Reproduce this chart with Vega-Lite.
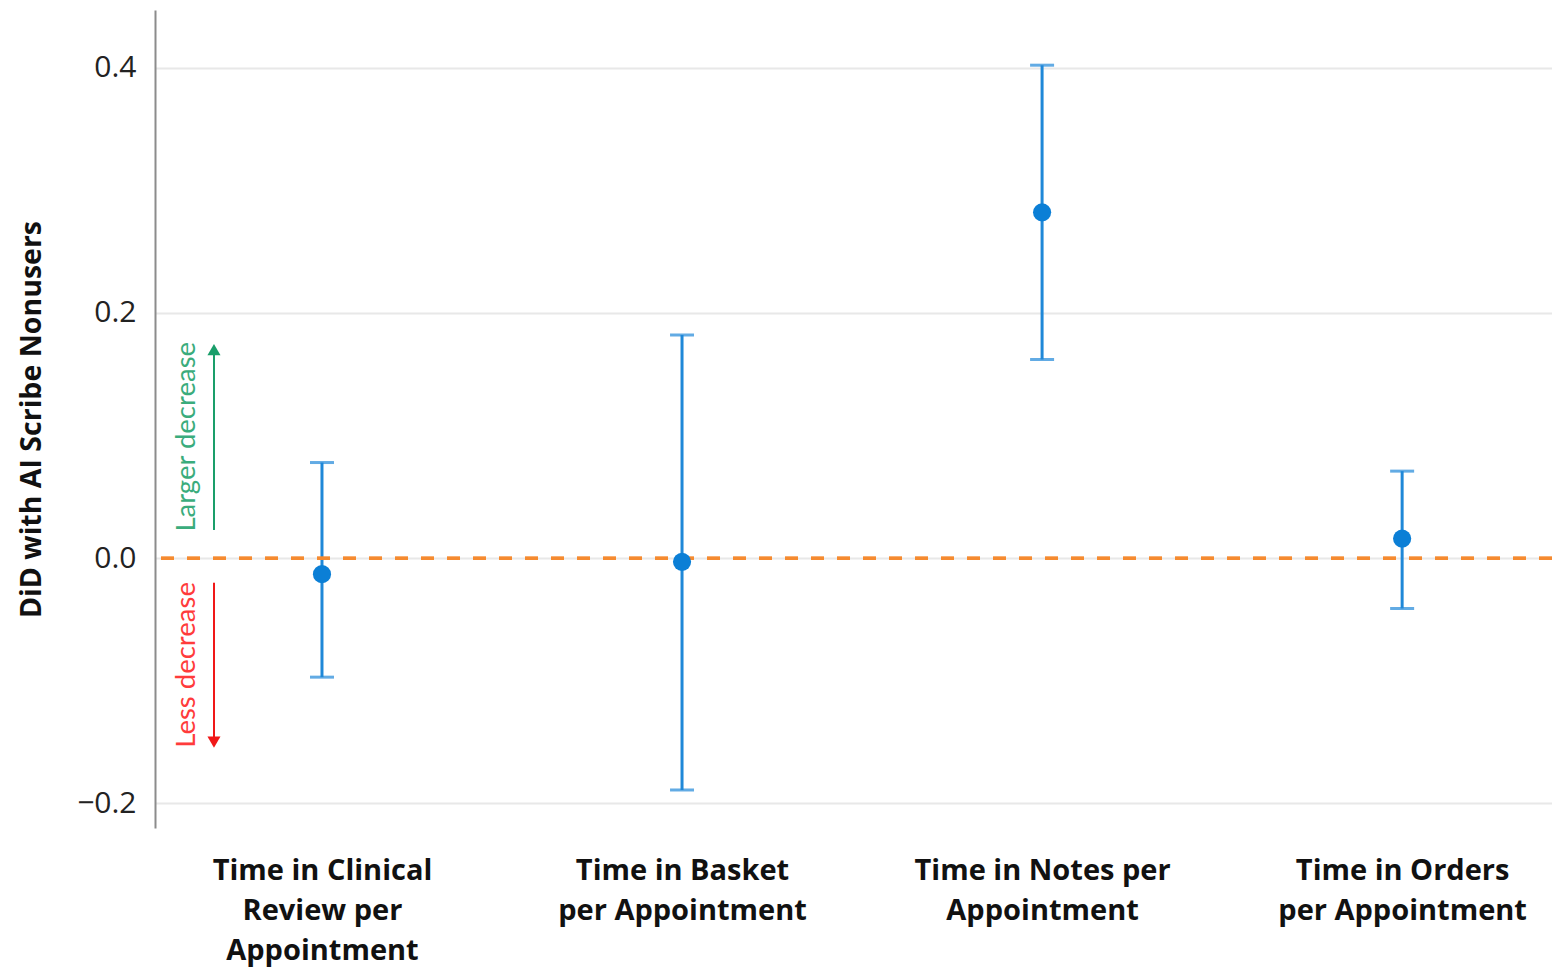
{
  "$schema": "https://vega.github.io/schema/vega-lite/v6.json",
  "width": 1397,
  "height": 818,
  "autosize": "none",
  "padding": {"left": 155, "top": 10, "right": 0, "bottom": 139},
  "background": "white",
  "config": {"view": {"stroke": null}, "font": "Open Sans"},
  "datasets": {
    "est": [
      {"metric": "Time in Clinical Review per Appointment", "estimate": -0.013, "lower": -0.097, "upper": 0.078},
      {"metric": "Time in Basket per Appointment", "estimate": -0.003, "lower": -0.189, "upper": 0.182},
      {"metric": "Time in Notes per Appointment", "estimate": 0.282, "lower": 0.162, "upper": 0.402},
      {"metric": "Time in Orders per Appointment", "estimate": 0.016, "lower": -0.041, "upper": 0.071}
    ],
    "ann": [
      {"label": "Larger decrease", "mid": 0.099, "start": 0.023, "end": 0.17},
      {"label": "Less decrease", "mid": -0.087, "start": -0.02, "end": -0.15}
    ]
  },
  "encoding": {
    "x": {
      "field": "metric",
      "type": "nominal",
      "sort": null,
      "scale": {"type": "point", "padding": 0.44, "align": 0.527},
      "axis": {
        "title": null,
        "domain": false,
        "ticks": false,
        "grid": false,
        "labelAngle": 0,
        "labelPadding": 28,
        "labelLimit": 0,
        "labelFont": "Open Sans",
        "labelFontSize": 29,
        "labelFontWeight": "bold",
        "labelColor": "#111111",
        "labelLineHeight": 40,
        "labelBaseline": "top",
        "labelExpr": "datum.value == 'Time in Clinical Review per Appointment' ? ['Time in Clinical', 'Review per', 'Appointment'] : datum.value == 'Time in Basket per Appointment' ? ['Time in Basket', 'per Appointment'] : datum.value == 'Time in Notes per Appointment' ? ['Time in Notes per', 'Appointment'] : ['Time in Orders', 'per Appointment']"
      }
    }
  },
  "layer": [
    {
      "data": {"name": "est"},
      "mark": {"type": "rule", "color": "#1f88d8", "strokeWidth": 3},
      "encoding": {
        "y": {
          "field": "lower",
          "type": "quantitative",
          "title": "DiD with AI Scribe Nonusers",
          "scale": {"domain": [-0.22, 0.447], "nice": false, "zero": false},
          "axis": {
            "values": [-0.2, 0, 0.2, 0.4],
            "format": ".1f",
            "ticks": false,
            "grid": true,
            "gridColor": "#e8e8e8",
            "gridWidth": 2,
            "domainColor": "#8c8c8c",
            "domainWidth": 2,
            "labelFont": "Open Sans",
            "labelFontSize": 30,
            "labelColor": "#222222",
            "labelPadding": 19,
            "titleFont": "Open Sans",
            "titleFontSize": 28.5,
            "titleFontWeight": "bold",
            "titleColor": "#111111",
            "titlePadding": 30
          }
        },
        "y2": {"field": "upper"}
      }
    },
    {
      "data": {"name": "est"},
      "mark": {"type": "rule", "color": "#f58a30", "strokeWidth": 3, "strokeDash": [13, 13]},
      "encoding": {"x": null, "y": {"datum": 0, "type": "quantitative", "title": "DiD with AI Scribe Nonusers"}}
    },
    {
      "data": {"name": "est"},
      "mark": {"type": "tick", "color": "#1f88d8", "thickness": 3, "size": 24, "orient": "horizontal"},
      "encoding": {"y": {"field": "upper", "type": "quantitative", "title": "DiD with AI Scribe Nonusers"}}
    },
    {
      "data": {"name": "est"},
      "mark": {"type": "tick", "color": "#1f88d8", "thickness": 3, "size": 24, "orient": "horizontal"},
      "encoding": {"y": {"field": "lower", "type": "quantitative", "title": "DiD with AI Scribe Nonusers"}}
    },
    {
      "data": {"name": "est"},
      "mark": {"type": "circle", "color": "#0b7fd6", "opacity": 1, "size": 330},
      "encoding": {"y": {"field": "estimate", "type": "quantitative", "title": "DiD with AI Scribe Nonusers"}}
    },
    {
      "data": {"name": "ann"},
      "transform": [{"filter": "datum.label == 'Larger decrease'"}],
      "layer": [
        {
          "mark": {"type": "rule", "color": "#1a9e6a", "strokeWidth": 2, "xOffset": -108},
          "encoding": {
            "x": {"datum": "Time in Clinical Review per Appointment", "type": "nominal"},
            "y": {"field": "start", "type": "quantitative", "title": "DiD with AI Scribe Nonusers"},
            "y2": {"field": "end"}
          }
        },
        {
          "mark": {"type": "point", "shape": "triangle-up", "filled": true, "color": "#1a9e6a", "opacity": 1, "size": 170, "xOffset": -108},
          "encoding": {
            "x": {"datum": "Time in Clinical Review per Appointment", "type": "nominal"},
            "y": {"field": "end", "type": "quantitative", "title": "DiD with AI Scribe Nonusers"}
          }
        },
        {
          "mark": {"type": "text", "color": "#3aac7c", "font": "Lato", "fontSize": 27.5, "angle": 270, "align": "center", "baseline": "middle", "xOffset": -135},
          "encoding": {
            "x": {"datum": "Time in Clinical Review per Appointment", "type": "nominal"},
            "y": {"field": "mid", "type": "quantitative", "title": "DiD with AI Scribe Nonusers"},
            "text": {"field": "label"}
          }
        }
      ]
    },
    {
      "data": {"name": "ann"},
      "transform": [{"filter": "datum.label == 'Less decrease'"}],
      "layer": [
        {
          "mark": {"type": "rule", "color": "#f01818", "strokeWidth": 2, "xOffset": -108},
          "encoding": {
            "x": {"datum": "Time in Clinical Review per Appointment", "type": "nominal"},
            "y": {"field": "start", "type": "quantitative", "title": "DiD with AI Scribe Nonusers"},
            "y2": {"field": "end"}
          }
        },
        {
          "mark": {"type": "point", "shape": "triangle-down", "filled": true, "color": "#f01818", "opacity": 1, "size": 170, "xOffset": -108},
          "encoding": {
            "x": {"datum": "Time in Clinical Review per Appointment", "type": "nominal"},
            "y": {"field": "end", "type": "quantitative", "title": "DiD with AI Scribe Nonusers"}
          }
        },
        {
          "mark": {"type": "text", "color": "#ff3b3b", "font": "Lato", "fontSize": 27.5, "angle": 270, "align": "center", "baseline": "middle", "xOffset": -135},
          "encoding": {
            "x": {"datum": "Time in Clinical Review per Appointment", "type": "nominal"},
            "y": {"field": "mid", "type": "quantitative", "title": "DiD with AI Scribe Nonusers"},
            "text": {"field": "label"}
          }
        }
      ]
    }
  ]
}
